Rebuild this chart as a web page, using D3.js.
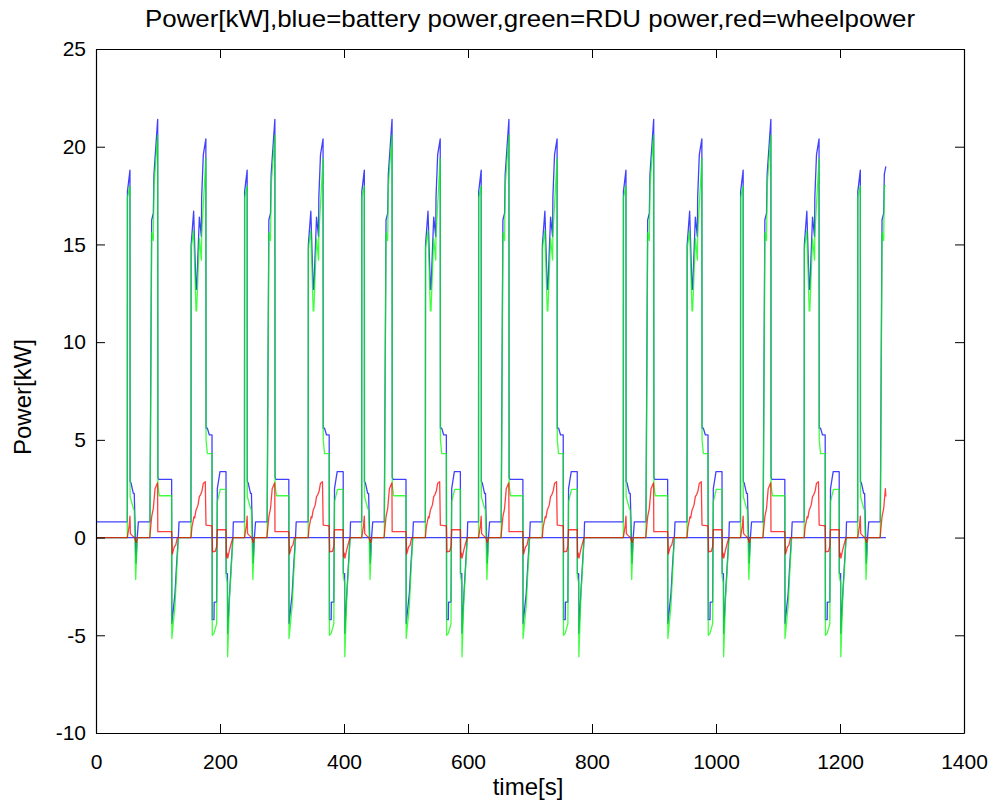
<!DOCTYPE html>
<html><head><meta charset="utf-8">
<script src="https://cdn.jsdelivr.net/npm/d3@7"></script>
<style>
body{margin:0;background:#fff}
svg{display:block}
text{font-family:"Liberation Sans",Arial,Helvetica,sans-serif;fill:#000}
</style>
</head><body>
<svg id="chart" width="995" height="803"></svg>
<script>
// ---- tick labels ----
const xTicks = [0, 200, 400, 600, 800, 1000, 1200, 1400];
const yTicks = [-10, -5, 0, 5, 10, 15, 20, 25];

// ---- start time of each repeated drive cycle [s] ----
const cycleStarts = [50.5, 239.5, 428.5, 617, 850.5, 1039.5, 1228.5];
const endT = 1274;

// ---- one cycle, time from cycle start [s] and power [kW] ----
const battTau = [0,0.2,4.3,4.5,6.0,9.7,11.2,14.0,16.0,17.8,36.5,39.3,42.0,43.0,49.0,49.3,50.5,71.5,71.8,76.9,79.6,82.3,83.4,102.7,103.0,107.0,110.8,111.8,116.2,119.5,119.9,122.6,126.7,127.0,129.1,132.3,136.6,137.0,139.8,140.1,144.1,145.2,149.5,159.2,159.4,161.5,161.8,165.0,167.8,170.3,171.0];
const battVal = [0.8,17.7,18.8,2.86,2.8,2.26,2.26,-1.3,0,0.8,0.8,16.25,16.6,18.6,21.4,3.1,2.98,2.98,-4.4,-2.86,-1.3,0,0.8,0.8,15.0,16.7,12.7,12.7,16.4,15.4,17.4,19.6,20.4,5.6,5.6,5.25,5.25,-4.2,-4.2,-3.3,-3.3,2.5,3.37,3.37,-1.84,-1.84,-4.9,-2.85,-1.3,0,0.8];

const rduTau = [0,0.2,4.3,4.5,9.7,11.2,13.5,16.0,36.5,39.3,42.0,43.0,49.0,49.3,51.5,71.5,71.8,76.9,79.6,82.5,102.7,103.0,107.0,110.8,111.8,116.2,119.5,119.9,126.7,127.0,129.1,136.6,137.0,139.8,144.1,145.2,150.0,159.2,159.4,161.5,161.8,165.0,167.8,170.3];
const rduVal = [0,17.4,18.0,2.1,1.5,1.4,-2.14,0,0,15.6,15.2,18.0,20.6,2.7,2.14,2.14,-5.16,-3.5,-1.7,0,0,14.8,15.7,11.6,11.6,15.3,14.2,15.5,19.4,5.0,4.3,4.3,-5.0,-4.9,-4.4,1.84,2.47,2.47,-2.0,-2.3,-6.1,-3.0,-1.5,0];

const wheelTau = [0,3.0,4.3,5.0,8.0,11.5,14.5,16.0,36.1,39.3,42.0,44.7,47.4,48.8,49.2,71.5,72.6,75.8,78.0,80.7,102.7,104.3,107.6,108.6,110.8,114.0,116.2,118.3,120.5,122.6,125.8,126.9,136.6,137.5,142.0,144.1,145.2,159.2,159.8,161.0,162.0,165.0,168.0,170.3];
const wheelVal = [0,0.6,1.1,0.2,0.1,0,-0.25,0,0,1.07,1.5,2.5,2.7,2.8,0.3,0.3,-0.85,-0.47,-0.4,0,0,0.55,1.07,1.0,1.4,1.66,2.1,2.2,2.4,2.78,2.86,0.64,0.6,-0.73,-0.7,-0.45,0.4,0.4,-1.0,-0.8,-1.05,-0.6,-0.25,0];

// values at t=0 and at the last sample
const startVals = {batt: 0.8, rdu: 0, wheel: 0};
const endVals = {batt: 19.0, rdu: 18.0, wheel: 2.1};

function buildSeries(tau, val, v0, vEnd) {
  const pts = [[0, v0]];
  cycleStarts.forEach(s => {
    tau.forEach((d, i) => { const t = s + d; if (t < endT) pts.push([t, val[i]]); });
  });
  pts.push([endT, vEnd]);
  return pts;
}
const batt = buildSeries(battTau, battVal, startVals.batt, endVals.batt);
const rdu = buildSeries(rduTau, rduVal, startVals.rdu, endVals.rdu);
const wheel = buildSeries(wheelTau, wheelVal, startVals.wheel, endVals.wheel);
const zeroLine = [[0, 0], [endT, 0]];

// ---- layout ----
const L = 96, R = 964, T = 49, B = 733;
const svg = d3.select("#chart");
const x = d3.scaleLinear().domain([0, 1400]).range([L, R]);
const y = d3.scaleLinear().domain([-10, 25]).range([B, T]);

svg.append("rect").attr("x",0).attr("y",0).attr("width",995).attr("height",803).attr("fill","#fff");

const line = d3.line().x(d => x(d[0])).y(d => y(d[1]));
const g = svg.append("g");
const drawLine = (data, color) => g.append("path").datum(data)
  .attr("d", line).attr("fill","none").attr("stroke", color)
  .attr("stroke-width", 1.3).attr("stroke-opacity", 0.75).attr("stroke-linejoin","round");
drawLine(zeroLine, "#0000ff");
drawLine(batt, "#0000ff");
drawLine(rdu, "#00ff00");
drawLine(wheel, "#ff0000");

// ---- axes (ticks inward on all four sides) ----
const fs = "21px";
const fmt = d => String(d);
const ax = svg.append("g").attr("transform", `translate(0,${B})`)
  .call(d3.axisBottom(x).tickValues(xTicks).tickSizeInner(-9).tickSizeOuter(0).tickPadding(21).tickFormat(fmt));
const ay = svg.append("g").attr("transform", `translate(${L},0)`)
  .call(d3.axisLeft(y).tickValues(yTicks).tickSizeInner(-9).tickSizeOuter(0).tickPadding(10).tickFormat(fmt));
const at = svg.append("g").attr("transform", `translate(0,${T})`)
  .call(d3.axisTop(x).tickValues(xTicks).tickSizeInner(-9).tickSizeOuter(0).tickFormat(""));
const ar = svg.append("g").attr("transform", `translate(${R},0)`)
  .call(d3.axisRight(y).tickValues(yTicks).tickSizeInner(-9).tickSizeOuter(0).tickFormat(""));
[ax, ay, at, ar].forEach(a => {
  a.selectAll("path").attr("stroke", "#000").attr("stroke-width", 1.2);
  a.selectAll("line").attr("stroke", "#000").attr("stroke-width", 1);
  a.selectAll("text").style("font-size", fs).style("font-family", '"Liberation Sans",Arial,sans-serif').attr("fill", "#000");
});

// ---- titles ----
svg.append("text").attr("x", 530).attr("y", 27).attr("text-anchor", "middle")
  .style("font-size", "24px").attr("textLength", 770).attr("lengthAdjust", "spacingAndGlyphs")
  .text("Power[kW],blue=battery power,green=RDU power,red=wheelpower");
svg.append("text").attr("x", 528).attr("y", 795).attr("text-anchor", "middle")
  .style("font-size", "24px").text("time[s]");
svg.append("text").attr("transform", "translate(31,397) rotate(-90)").attr("text-anchor", "middle")
  .style("font-size", "24px").text("Power[kW]");
</script>
</body></html>
